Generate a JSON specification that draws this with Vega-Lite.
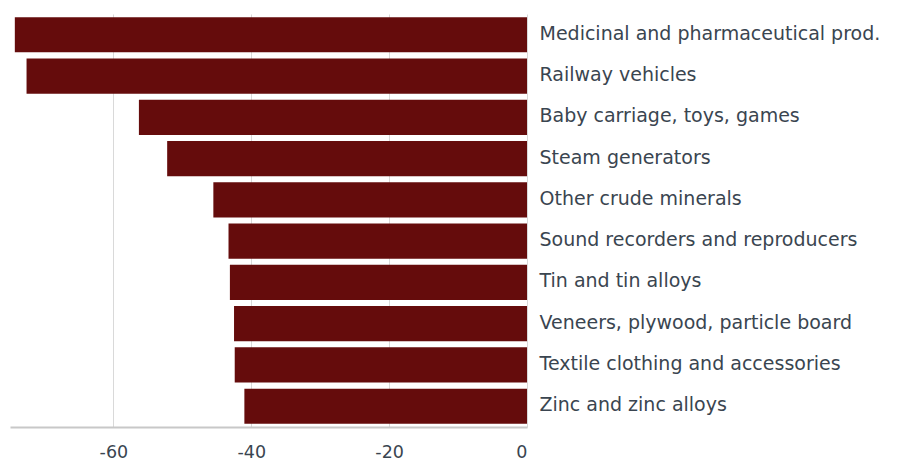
{
  "$schema": "https://vega.github.io/schema/vega-lite/v6.json",
  "autosize": "none",
  "width": 517,
  "height": 413,
  "padding": {"left": 10, "top": 14, "right": 390, "bottom": 35},
  "background": "white",
  "data": {
    "values": [
      {"product": "Medicinal and pharmaceutical prod.", "value": -74.3},
      {"product": "Railway vehicles", "value": -72.6},
      {"product": "Baby carriage, toys, games", "value": -56.3},
      {"product": "Steam generators", "value": -52.2},
      {"product": "Other crude minerals", "value": -45.5},
      {"product": "Sound recorders and reproducers", "value": -43.3},
      {"product": "Tin and tin alloys", "value": -43.1},
      {"product": "Veneers, plywood, particle board", "value": -42.5},
      {"product": "Textile clothing and accessories", "value": -42.4},
      {"product": "Zinc and zinc alloys", "value": -41.0}
    ]
  },
  "mark": {"type": "bar", "color": "#650c0c"},
  "encoding": {
    "y": {
      "field": "product",
      "type": "nominal",
      "sort": null,
      "scale": {"paddingInner": 0.15, "paddingOuter": 0.08},
      "axis": {
        "orient": "right",
        "title": null,
        "domain": false,
        "ticks": false,
        "labelPadding": 12,
        "labelFont": "DejaVu Sans",
        "labelFontSize": 19,
        "labelColor": "#3a4550",
        "labelLimit": 400,
        "labelOffset": -1
      }
    },
    "x": {
      "field": "value",
      "type": "quantitative",
      "scale": {"domain": [-75, 0], "nice": false},
      "axis": {
        "title": null,
        "values": [-60, -40, -20, 0],
        "labelExpr": "'' + datum.value",
        "grid": true,
        "gridColor": "#d9d9d9",
        "gridWidth": 1,
        "domain": true,
        "domainColor": "#c8c8c8",
        "domainWidth": 2,
        "ticks": false,
        "labelPadding": 16,
        "labelFont": "DejaVu Sans",
        "labelFontSize": 17.5,
        "labelColor": "#3a4550"
      }
    }
  },
  "config": {"view": {"stroke": null}}
}
